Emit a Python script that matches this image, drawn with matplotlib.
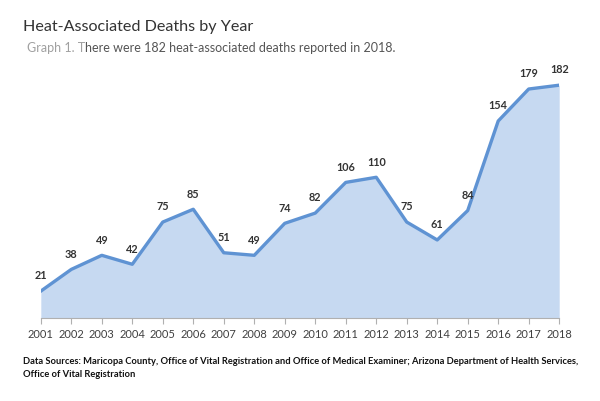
import matplotlib
matplotlib.use("Agg")
import matplotlib.pyplot as plt

years = list(range(2001, 2019))
deaths = [21, 38, 49, 42, 75, 85, 51, 49, 74, 82, 106, 110, 75, 61, 84, 154, 179, 182]

title = "Heat-Associated Deaths by Year"
sub_lead = "Graph 1. T"
sub_rest = "here were 182 heat-associated deaths reported in 2018."
source = ("Data Sources: Maricopa County, Office of Vital Registration and Office of Medical Examiner; "
          "Arizona Department of Health Services,\nOffice of Vital Registration")

plt.rcParams["font.family"] = ["Lato", "DejaVu Sans"]

line_col = "#5f93d3"
fill_col = "#c6d9f1"

fig = plt.figure(figsize=(6.0, 4.01), dpi=100)
ax = fig.add_axes([0.068, 0.207, 0.864, 0.638])

ax.fill_between(years, deaths, 0, color=fill_col, lw=0)
ax.plot(years, deaths, color=line_col, lw=2.4, solid_joinstyle="round")
for x, y in zip(years, deaths):
    ax.annotate(str(y), (x, y), xytext=(0, 7), textcoords="offset points",
                ha="center", va="bottom", fontsize=7.8, fontweight="bold", color="#333333")

ax.set_xlim(2001, 2018)
ax.set_ylim(0, 200)
ax.set_xticks(years)
ax.set_xticklabels([str(y) for y in years], fontsize=8, color="#404040")
ax.set_yticks([])
for s in ["top", "right", "left"]:
    ax.spines[s].set_visible(False)
ax.spines["bottom"].set_color("#b0b0b0")
ax.tick_params(axis="x", length=4, color="#b0b0b0", pad=4)

fig.text(23 / 600, 1 - 27 / 401, title, fontsize=11.6, color="#333333", va="center")
t1 = fig.text(27 / 600, 1 - 48 / 401, sub_lead, fontsize=9, color="#a0a0a0", va="center")
ax.annotate(sub_rest, xy=(1, 0.5), xycoords=t1, va="center", ha="left",
            fontsize=9, color="#555555", annotation_clip=False)
fig.text(23 / 600, 1 - 368 / 401, source, fontsize=6.75, fontweight="bold",
         color="#111111", va="center", linespacing=1.6)

fig.savefig("out.png", dpi=100)
